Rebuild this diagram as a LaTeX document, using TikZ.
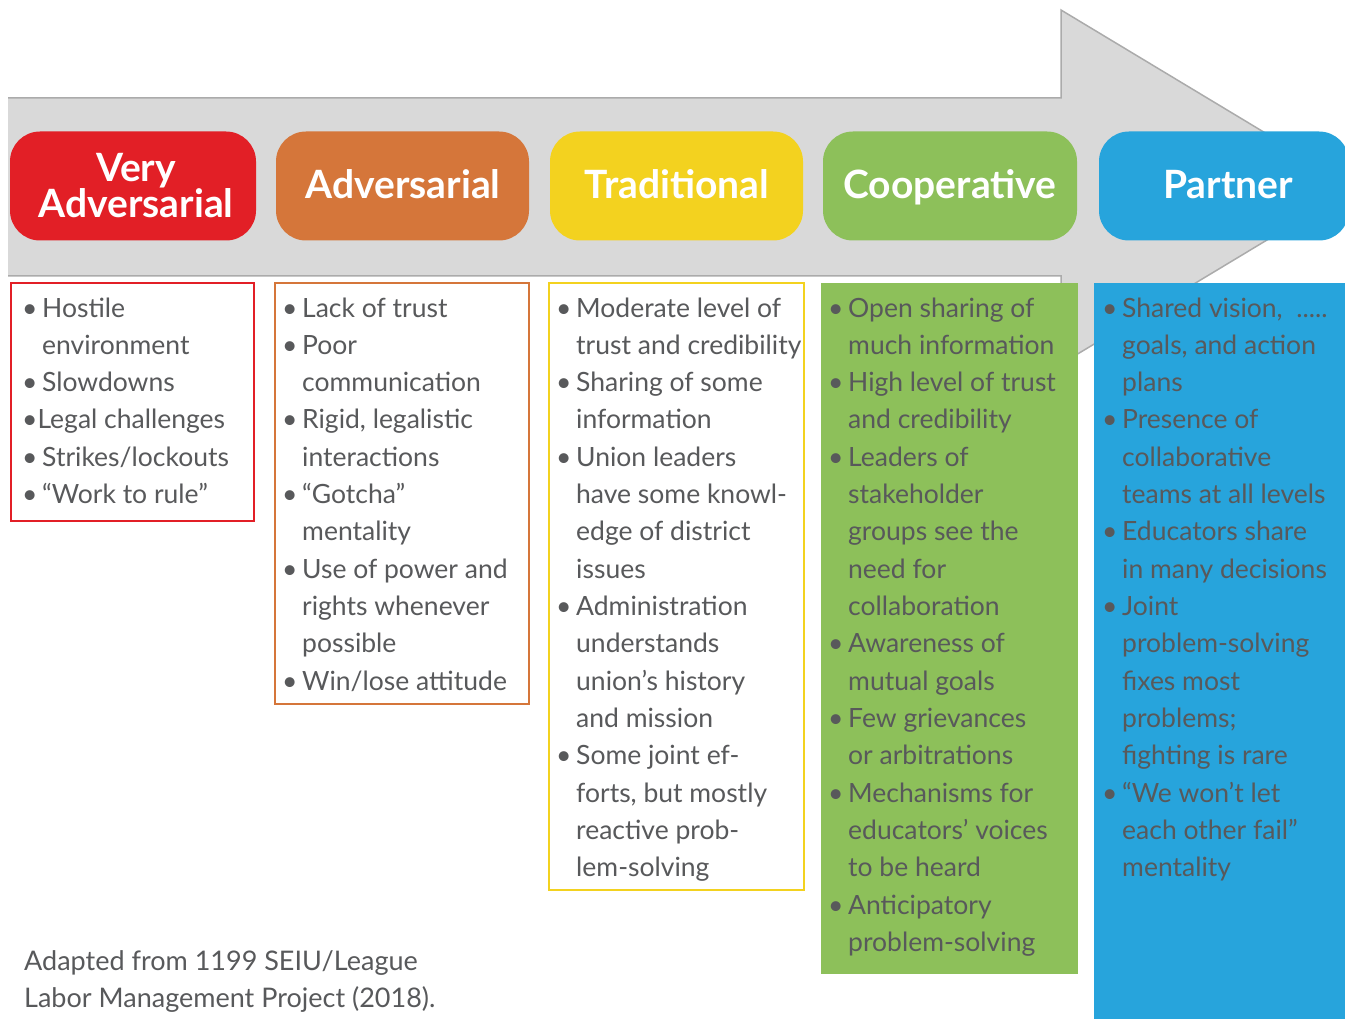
\documentclass[tikz,border=0pt]{standalone}
\usepackage{fontspec}
\setmainfont{Lato}
\definecolor{cRed}{HTML}{E21F26}
\definecolor{cOrange}{HTML}{D5763A}
\definecolor{cYellow}{HTML}{F3D21F}
\definecolor{cGreen}{HTML}{8DC05A}
\definecolor{cBlue}{HTML}{27A4DC}
\definecolor{txtGray}{HTML}{58595B}
\definecolor{arrFill}{HTML}{D9D9D9}
\definecolor{arrLine}{HTML}{ABABAB}
\newcommand{\bl}{\makebox[20pt][l]{•}}
\newcommand{\hi}{\hspace*{20pt}}
\tikzset{
  hdr/.style={rounded corners=30pt, minimum height=109pt, inner sep=0pt},
  hdrtext/.style={anchor=base, inner sep=0pt, text=white,
    font=\fontsize{39}{37}\selectfont\bfseries, align=center},
  colbox/.style={anchor=north west, inner sep=0pt, line width=2pt},
  coltext/.style={anchor=base west, inner sep=0pt, text=txtGray},
}
\newcommand{\coltxt}[1]{\parbox[t]{300pt}{\raggedright\fontsize{26.5}{37.33}\selectfont #1}}
\newcommand{\srctxt}[1]{\parbox[t]{500pt}{\raggedright\fontsize{27}{37.33}\selectfont #1}}
\begin{document}
\begin{tikzpicture}[x=1pt,y=-1pt]
\useasboundingbox (0,0) rectangle (1345,1019);
% big arrow
\fill[arrFill] (8,98) -- (1061,98) -- (1061,10) -- (1355,187) -- (1061,364) -- (1061,276) -- (8,276) -- cycle;
\draw[arrLine, line width=1.5pt, line join=miter] (8,98) -- (1061,98) -- (1061,10) -- (1355,187) -- (1061,364) -- (1061,276) -- (8,276);
% header boxes
\node[hdr, fill=cRed, minimum width=246pt] (h1) at (133,186) {};
\node[hdr, fill=cOrange, minimum width=253pt] (h2) at (402.5,186) {};
\node[hdr, fill=cYellow, minimum width=253pt] (h3) at (676.5,186) {};
\node[hdr, fill=cGreen, minimum width=254pt] (h4) at (950,186) {};
\node[hdr, fill=cBlue, minimum width=250pt] (h5) at (1224,186) {};
% header labels
\node[hdrtext] (l1a) at (136,182) {Very};
\node[hdrtext] (l1b) at (136,218) {Adversarial};
\node[hdrtext] (l2) at (403,199) {Adversarial};
\node[hdrtext] (l3) at (677,199) {Traditional};
\node[hdrtext] (l4) at (950,199) {Cooperative};
\node[hdrtext] (l5) at (1228,199) {Partner};
% column boxes
\node[colbox, draw=cRed, fill=white, minimum width=243pt, minimum height=238pt] (b1) at (10,282) {};
\node[colbox, draw=cOrange, fill=white, minimum width=254pt, minimum height=421pt] (b2) at (274,282) {};
\node[colbox, draw=cYellow, fill=white, minimum width=255pt, minimum height=607pt] (b3) at (548,282) {};
\node[colbox, draw=none, fill=cGreen, minimum width=257pt, minimum height=691pt] (b4) at (820,282) {};
\node[colbox, draw=none, fill=cBlue, minimum width=260pt, minimum height=740pt] (b5) at (1093,282) {};
% column texts
\node[coltext] (t1) at (22,317) {\coltxt{%
\bl Hostile\\ \hi environment\\ \bl Slowdowns\\ •Legal challenges\\ \bl Strikes/lockouts\\ \bl “Work to rule”}};
\node[coltext] (t2) at (282,317) {\coltxt{%
\bl Lack of trust\\ \bl Poor\\ \hi communication\\ \bl Rigid, legalistic\\ \hi interactions\\ \bl “Gotcha”\\ \hi mentality\\ \bl Use of power and\\ \hi rights whenever\\ \hi possible\\ \bl Win/lose attitude}};
\node[coltext] (t3) at (556,317) {\coltxt{%
\bl Moderate level of\\ \hi trust and credibility\\ \bl Sharing of some\\ \hi information\\ \bl Union leaders\\ \hi have some knowl-\\ \hi edge of district\\ \hi issues\\ \bl Administration\\ \hi understands\\ \hi union’s history\\ \hi and mission\\ \bl Some joint ef-\\ \hi forts, but mostly\\ \hi reactive prob-\\ \hi lem-solving}};
\node[coltext] (t4) at (828,317) {\coltxt{%
\bl Open sharing of\\ \hi much information\\ \bl High level of trust\\ \hi and credibility\\ \bl Leaders of\\ \hi stakeholder\\ \hi groups see the\\ \hi need for\\ \hi collaboration\\ \bl Awareness of\\ \hi mutual goals\\ \bl Few grievances\\ \hi or arbitrations\\ \bl Mechanisms for\\ \hi educators’ voices\\ \hi to be heard\\ \bl Anticipatory\\ \hi problem-solving}};
\node[coltext] (t5) at (1102,317) {\coltxt{%
\bl Shared vision, \ .....\\ \hi goals, and action\\ \hi plans\\ \bl Presence of\\ \hi collaborative\\ \hi teams at all levels\\ \bl Educators share\\ \hi in many decisions\\ \bl Joint\\ \hi problem-solving\\ \hi fixes most\\ \hi problems;\\ \hi fighting is rare\\ \bl “We won’t let\\ \hi each other fail”\\ \hi mentality}};
% footer
\node[coltext] (src) at (24,970) {\srctxt{Adapted from 1199 SEIU/League\\ Labor Management Project (2018).}};
\end{tikzpicture}
\end{document}
